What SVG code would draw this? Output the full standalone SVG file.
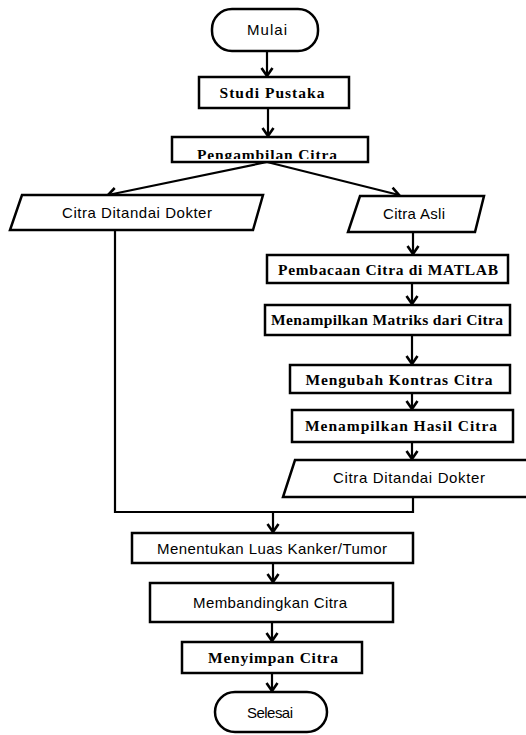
<svg xmlns="http://www.w3.org/2000/svg" width="526" height="735" viewBox="0 0 526 735">
<style>
.box{fill:#fff;stroke:#000;stroke-width:2.5}
.ln{fill:none;stroke:#000;stroke-width:2.2}
.arr{fill:none;stroke:#000;stroke-width:2.2;marker-end:url(#ah)}
.sans{font-family:"Liberation Sans",Arial,sans-serif;font-size:15px;fill:#000}
.serif{font-family:"Liberation Serif","Times New Roman",serif;font-size:15.5px;font-weight:bold;fill:#000}
</style>
<defs>
<marker id="ah" markerUnits="userSpaceOnUse" markerWidth="14" markerHeight="14" viewBox="-10 -7 12 14" refX="0" refY="0" orient="auto">
<path d="M-8,-5.5 L0,0 L-8,5.5" fill="none" stroke="#000" stroke-width="2.6"/>
</marker>
<clipPath id="pclip"><rect x="172" y="137" width="196" height="22"/></clipPath>
</defs>
<g id="connectors">
<line class="arr" x1="267" y1="51" x2="267" y2="76"/>
<line class="arr" x1="268" y1="108" x2="268" y2="136"/>
<line class="arr" x1="267" y1="162" x2="108" y2="195"/>
<line class="arr" x1="267" y1="162" x2="399" y2="195"/>
<line class="arr" x1="413" y1="232" x2="413" y2="254"/>
<line class="arr" x1="412" y1="283" x2="412" y2="304"/>
<line class="arr" x1="412" y1="335" x2="412" y2="364"/>
<line class="arr" x1="412" y1="393" x2="412" y2="409"/>
<line class="arr" x1="412" y1="442" x2="412" y2="459"/>
<polyline class="ln" points="115,230 115,512 413,512 413,497"/>
<line class="arr" x1="273" y1="512" x2="273" y2="532"/>
<line class="arr" x1="273" y1="563" x2="273" y2="582"/>
<line class="arr" x1="272" y1="622" x2="272" y2="641"/>
<line class="arr" x1="272" y1="673" x2="272" y2="691"/>
</g>
<g id="mulai">
<rect class="box" x="212" y="9" width="106" height="42" rx="20"/>
<text class="sans" x="267" y="35" text-anchor="middle" textLength="40">Mulai</text>
</g>
<g id="studi">
<rect class="box" x="199" y="77" width="150" height="31"/>
<text class="serif" x="272" y="98" text-anchor="middle" textLength="105">Studi Pustaka</text>
</g>
<g id="pengambilan">
<rect class="box" x="172" y="137" width="196" height="25"/>
<text class="serif" x="267" y="160" text-anchor="middle" textLength="140" clip-path="url(#pclip)">Pengambilan Citra</text>
</g>
<g id="citra-ditandai-kiri">
<polygon class="box" points="22,195 263,195 253,230 10,230"/>
<text class="sans" x="137" y="218" text-anchor="middle" textLength="150">Citra Ditandai  Dokter</text>
</g>
<g id="citra-asli">
<polygon class="box" points="360,196 484,196 475,232 348,232"/>
<text class="sans" x="414" y="219" text-anchor="middle" textLength="62">Citra Asli</text>
</g>
<g id="pembacaan">
<rect class="box" x="267" y="255" width="241" height="28"/>
<text class="serif" x="388" y="274.5" text-anchor="middle" textLength="220">Pembacaan Citra di MATLAB</text>
</g>
<g id="matriks">
<rect class="box" x="265" y="305" width="245" height="30"/>
<text class="serif" x="387" y="325" text-anchor="middle" textLength="232">Menampilkan Matriks dari Citra</text>
</g>
<g id="mengubah">
<rect class="box" x="290" y="365" width="220" height="28"/>
<text class="serif" x="399" y="384.5" text-anchor="middle" textLength="187">Mengubah Kontras Citra</text>
</g>
<g id="hasil">
<rect class="box" x="292" y="410" width="221" height="32"/>
<text class="serif" x="401" y="431" text-anchor="middle" textLength="192">Menampilkan Hasil Citra</text>
</g>
<g id="citra-ditandai-kanan">
<polygon class="box" points="295,460 538,460 528,497 283,497"/>
<text class="sans" x="409" y="483" text-anchor="middle" textLength="152">Citra Ditandai  Dokter</text>
</g>
<g id="menentukan">
<rect class="box" x="132" y="533" width="281" height="30"/>
<text class="sans" x="272" y="553.5" text-anchor="middle" textLength="230">Menentukan Luas Kanker/Tumor</text>
</g>
<g id="membandingkan">
<rect class="box" x="150" y="583" width="243" height="39"/>
<text class="sans" x="270" y="607.5" text-anchor="middle" textLength="154">Membandingkan Citra</text>
</g>
<g id="menyimpan">
<rect class="box" x="182" y="642" width="180" height="31"/>
<text class="serif" x="273" y="662.5" text-anchor="middle" textLength="130">Menyimpan Citra</text>
</g>
<g id="selesai">
<rect class="box" x="215" y="692" width="112" height="40" rx="20"/>
<text class="sans" x="270" y="717.5" text-anchor="middle" textLength="46">Selesai</text>
</g>
</svg>
